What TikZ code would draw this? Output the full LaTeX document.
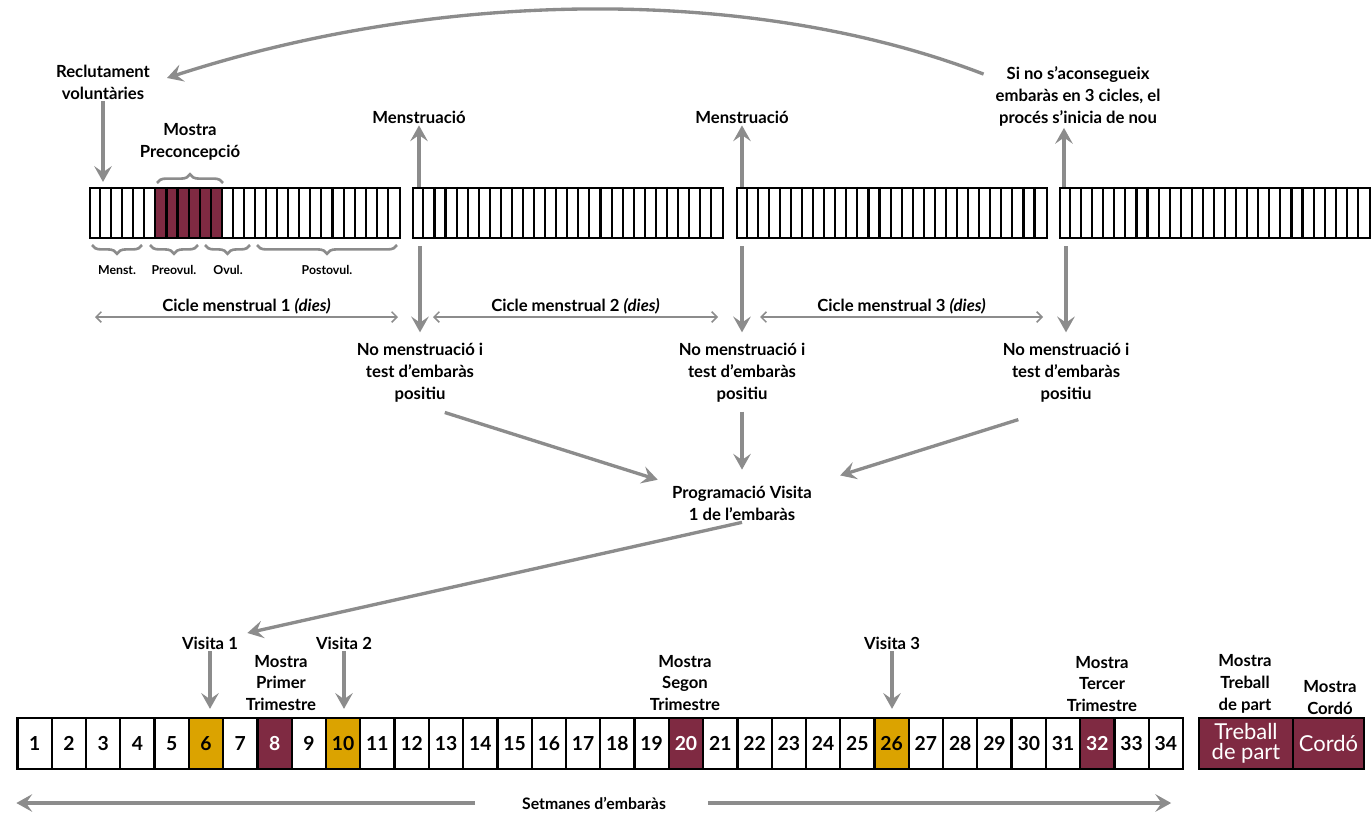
\documentclass[tikz,border=0pt]{standalone}
\usepackage{fontspec}
\setmainfont{Lato}
\usetikzlibrary{arrows.meta,decorations.pathreplacing}
\definecolor{maroon}{HTML}{7F2A42}
\definecolor{gold}{HTML}{DBA300}
\definecolor{arrgray}{HTML}{8C8C8C}

\begin{document}
\begin{tikzpicture}
  [x=0.02cm,y=-0.02cm,
   every node/.style={font=\bfseries\fontsize{9.5}{12.5}\selectfont,align=center,inner sep=1pt},
   arr/.style={draw=arrgray,line width=1.9pt,-{Stealth[length=9pt,width=10pt,inset=3.5pt]}},
   cyc/.style={draw=arrgray,line width=0.9pt,{Straight Barb[length=3pt,width=6pt]}-{Straight Barb[length=3pt,width=6pt]}},
   brc/.style={draw=arrgray,line width=1.5pt,decorate,decoration={brace,amplitude=5pt}},
   small/.style={font=\bfseries\fontsize{7}{8}\selectfont},
   dayrow/.style={draw,line width=1.2pt,minimum width=6.2cm,minimum height=1cm,inner sep=0pt},
   wk/.style={draw,line width=1.3pt,minimum width=0.6856cm,minimum height=1.02cm,inner sep=0pt,font=\bfseries\fontsize{11}{12}\selectfont},
   big/.style={wk,fill=maroon,text=white,font=\fontsize{12.5}{11.5}\selectfont},
   c6/.style={fill=gold},c10/.style={fill=gold},c26/.style={fill=gold},
   c8/.style={fill=maroon,text=white},c20/.style={fill=maroon,text=white},c32/.style={fill=maroon,text=white}]
  \useasboundingbox (0,0) rectangle (1372,815);

  % menstrual cycles
  \fill[maroon] (156.4,188) rectangle (222.9,238);
  \foreach \i in {1,...,4} {
    \node[dayrow] (s\i) at ({245+323.33*(\i-1)},213) {};
    \foreach \k in {1,...,27}
      \draw[line width=1.2pt] ([xshift=\k*0.22143cm]s\i.north west) -- ([xshift=\k*0.22143cm]s\i.south west);
  }
  \draw[brc] (157,183) -- (223,183);
  \draw[brc] (142,245) -- (92,245);
  \draw[brc] (198,245) -- (150,245);
  \draw[brc] (250,245) -- (205,245);
  \draw[brc] (397,245) -- (257,245);
  \node[small] (l1) at (117,270) {Menst.};
  \node[small] (l2) at (174,270) {Preovul.};
  \node[small] (l3) at (228,270) {Ovul.};
  \node[small] (l4) at (327,270) {Postovul.};

  \node (rec) at (103,82) {Reclutament\\voluntàries};
  \node (pre) at (190,142) {Mostra\\Preconcepció};
  \node (m1) at (419,117) {Menstruació};
  \node (m2) at (742,117) {Menstruació};
  \node (sino) at (1078,96) {Si no s’aconsegueix\\embaràs en 3 cicles, el\\procés s’inicia de nou};
  \draw[arr,shorten >=0.1cm] (rec) -- (rec |- s1.north);
  \draw[arr] (m1.south |- s2.north) -- (m1);
  \draw[arr] (m2.south |- s3.north) -- (m2);
  \draw[arr] ([xshift=0.1cm]s4.north west) coordinate (u4) -- (u4 |- sino.south);
  \draw[arr] ([xshift=-0.2cm,yshift=-0.2cm]sino.north west) .. controls (760,-12) and (450,-14) .. ([xshift=0.3cm,yshift=0.08cm]rec.east);

  \foreach \i/\xa/\xb in {1/95/398,2/433/718,3/760/1043}
    \draw[cyc] (\xa,317) coordinate (a\i) -- node[above=0pt] (c\i) {Cicle menstrual \i\ \textit{(dies)}} (\xb,317) coordinate (b\i);

  \foreach \i/\j/\x in {1/2/420,2/3/742,3/4/1066} {
    \node (nm\i) at (\x,373) {No menstruació i\\test d’embaràs\\positiu};
    \draw[arr,shorten <=0.14cm,shorten >=0.18cm] (nm\i.north |- s\j.south) -- (nm\i);
  }
  \node (prog) at (742,503) {Programació Visita\\1 de l’embaràs};
  \draw[arr,shorten <=0.52cm,shorten >=0.26cm] (nm1.south) -- (prog.north west);
  \draw[arr,shorten <=0.14cm,shorten >=0.28cm] (nm2) -- (prog);
  \draw[arr,shorten <=1cm,shorten >=0.55cm] (nm3.south) -- (prog.north east);

  % weeks
  \foreach \n in {1,...,34}
    \node[wk,c\n/.try] (w\n) at ({17.5+34.28*(\n-0.5)},743.5) {\n};
  \node[big,minimum width=1.88cm] (tp) at (1246,743.5) {Treball\\de part};
  \node[big,minimum width=1.42cm] (cd) at (1328.5,743.5) {Cordó};

  \foreach \i/\n/\x in {1/6/210,2/10/344,3/26/892} {
    \node (v\i) at (\x,643) {Visita \i};
    \draw[arr,shorten >=0.16cm] (v\i) -- (v\i |- w\n.north);
  }
  \draw[arr,shorten >=0.15cm] (prog.south) -- (v1.north east);

  \node (mp) at (281,683) {Mostra\\Primer\\Trimestre};
  \node (ms) at (685,683) {Mostra\\Segon\\Trimestre};
  \node (mt) at (1102,684) {Mostra\\Tercer\\Trimestre};
  \node (mtp) at (1245,684) {Mostra\\Treball\\de part};
  \node (mc) at (1330,698) {Mostra\\Cordó};

  \node[font=\bfseries\fontsize{9}{11}\selectfont] (set) at (594,803) {Setmanes d’embaràs};
  \draw[arr,shorten <=0.9cm] (set.west) -- (set.west -| w1.west);
  \draw[arr,shorten <=0.8cm,shorten >=0.26cm] (set.east) -- (set.east -| w34.east);
\end{tikzpicture}
\end{document}
